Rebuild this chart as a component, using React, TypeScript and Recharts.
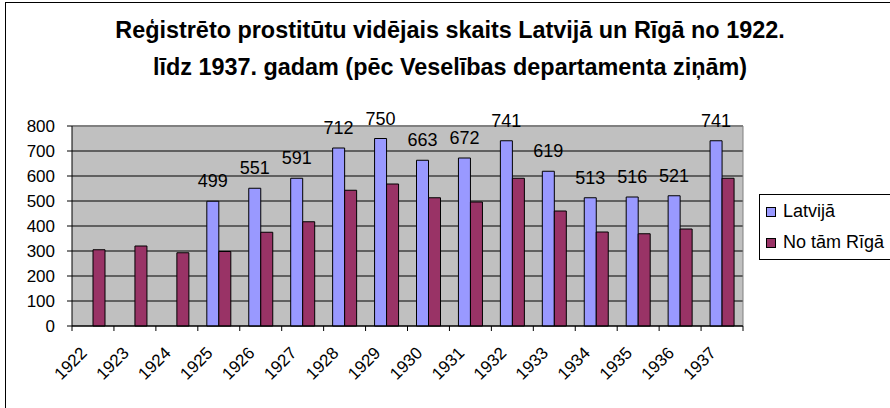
import React from 'react';
import { BarChart, Bar, XAxis, YAxis, CartesianGrid, Legend, LabelList, ReferenceLine } from 'recharts';

const YEARS = ['1922', '1923', '1924', '1925', '1926', '1927', '1928', '1929', '1930', '1931', '1932', '1933', '1934', '1935', '1936', '1937'];
const LATVIJA = [null, null, null, 499, 551, 591, 712, 750, 663, 672, 741, 619, 513, 516, 521, 741];
const RIGA = [305, 320, 293, 298, 375, 417, 543, 568, 513, 496, 591, 460, 376, 369, 388, 591];
const Y_TICKS = [0, 100, 200, 300, 400, 500, 600, 700, 800];
const SERIES_NAMES = ['Latvijā', 'No tām Rīgā'];
const TITLE_LINES = ['Reģistrēto prostitūtu vidējais skaits Latvijā un Rīgā no 1922.', 'līdz 1937. gadam (pēc Veselības departamenta ziņām)'];

const data = YEARS.map((y, i) => ({ year: y, latvija: LATVIJA[i], riga: RIGA[i] }));

const W = 890;
const H = 408;
const MARGIN = { top: 126, right: 147, left: 12, bottom: 0 };
const Y_AXIS_W = 60;
const X_AXIS_H = 82;
const PLOT_W = W - MARGIN.left - MARGIN.right - Y_AXIS_W;
const FONT = '"Liberation Sans", Arial, sans-serif';
const BLUE = '#9999FF';
const RED = '#993366';

const XTick = (props: any) => {
  const { x, y, payload, index } = props;
  const bw = PLOT_W / YEARS.length;
  const tx = x - 5;
  const ty = y + 28;
  return (
    <g>
      <line x1={x - bw / 2} x2={x - bw / 2} y1={y} y2={y + 5} stroke="#000" />
      {index === YEARS.length - 1 && <line x1={x + bw / 2} x2={x + bw / 2} y1={y} y2={y + 5} stroke="#000" />}
      <text x={tx} y={ty} transform={`rotate(-45, ${tx}, ${ty})`} textAnchor="end" fontSize={17} fontFamily={FONT} fill="#000">
        {payload.value}
      </text>
    </g>
  );
};

const TopLabel = (props: any) => {
  const { x, y, width, value } = props;
  if (value == null) return null;
  return (
    <text x={x + width / 2} y={y - 14} textAnchor="middle" fontSize={18} fontFamily={FONT} fill="#000">
      {value}
    </text>
  );
};

const LegendBox = () => (
  <div style={{ border: '1px solid #000', padding: '1px 6px', background: '#fff', fontFamily: FONT, fontSize: 18, color: '#000' }}>
    {SERIES_NAMES.map((n, i) => (
      <div key={n} style={{ display: 'flex', alignItems: 'center', height: 31, whiteSpace: 'nowrap' }}>
        <span style={{ display: 'inline-block', width: 8, height: 8, border: '1px solid #000', background: i === 0 ? BLUE : RED, marginRight: 7 }} />
        <span>{n}</span>
      </div>
    ))}
  </div>
);

export default function App() {
  return (
    <div style={{ position: 'absolute', left: 0, top: 0, width: W, height: H, overflow: 'hidden', background: '#fff' }}>
      <div style={{ position: 'absolute', left: 5, top: 2, width: 1000, height: 1000, border: '1px solid #000', boxSizing: 'border-box' }} />
      <div style={{ position: 'absolute', left: 0, top: 12, width: 900, textAlign: 'center', fontFamily: FONT, fontWeight: 'bold', fontSize: 23.4, lineHeight: '37px', color: '#000' }}>
        {TITLE_LINES.map((t) => (
          <div key={t}>{t}</div>
        ))}
      </div>
      <div style={{ position: 'absolute', left: 0, top: 0 }}>
        <BarChart width={W} height={H} data={data} margin={MARGIN} barSize={12} barGap={0}>
          <CartesianGrid fill="#C0C0C0" stroke="#000" vertical={false} />
          <CartesianGrid
            horizontal={false}
            stroke="#808080"
            verticalCoordinatesGenerator={({ offset }: any) => [offset.left + offset.width]}
          />
          <ReferenceLine y={800} stroke="#808080" strokeWidth={2} />
          <XAxis
            dataKey="year"
            height={X_AXIS_H}
            tickSize={0}
            tickMargin={0}
            tickLine={false}
            stroke="#000"
            interval={0}
            tick={<XTick />}
          />
          <YAxis
            width={Y_AXIS_W}
            domain={[0, 800]}
            ticks={Y_TICKS}
            interval={0}
            tickSize={5}
            tickMargin={12}
            stroke="#000"
            tick={{ fontSize: 17, fontFamily: FONT, fill: '#000' }}
          />
          <Legend
            layout="vertical"
            align="center"
            verticalAlign="middle"
            wrapperStyle={{ left: 759, top: 194, width: 140 }}
            content={() => <LegendBox />}
          />
          <Bar dataKey="latvija" name={SERIES_NAMES[0]} fill={BLUE} stroke="#000" strokeWidth={1} isAnimationActive={false}>
            <LabelList dataKey="latvija" content={<TopLabel />} />
          </Bar>
          <Bar dataKey="riga" name={SERIES_NAMES[1]} fill={RED} stroke="#000" strokeWidth={1} isAnimationActive={false} />
        </BarChart>
      </div>
    </div>
  );
}
